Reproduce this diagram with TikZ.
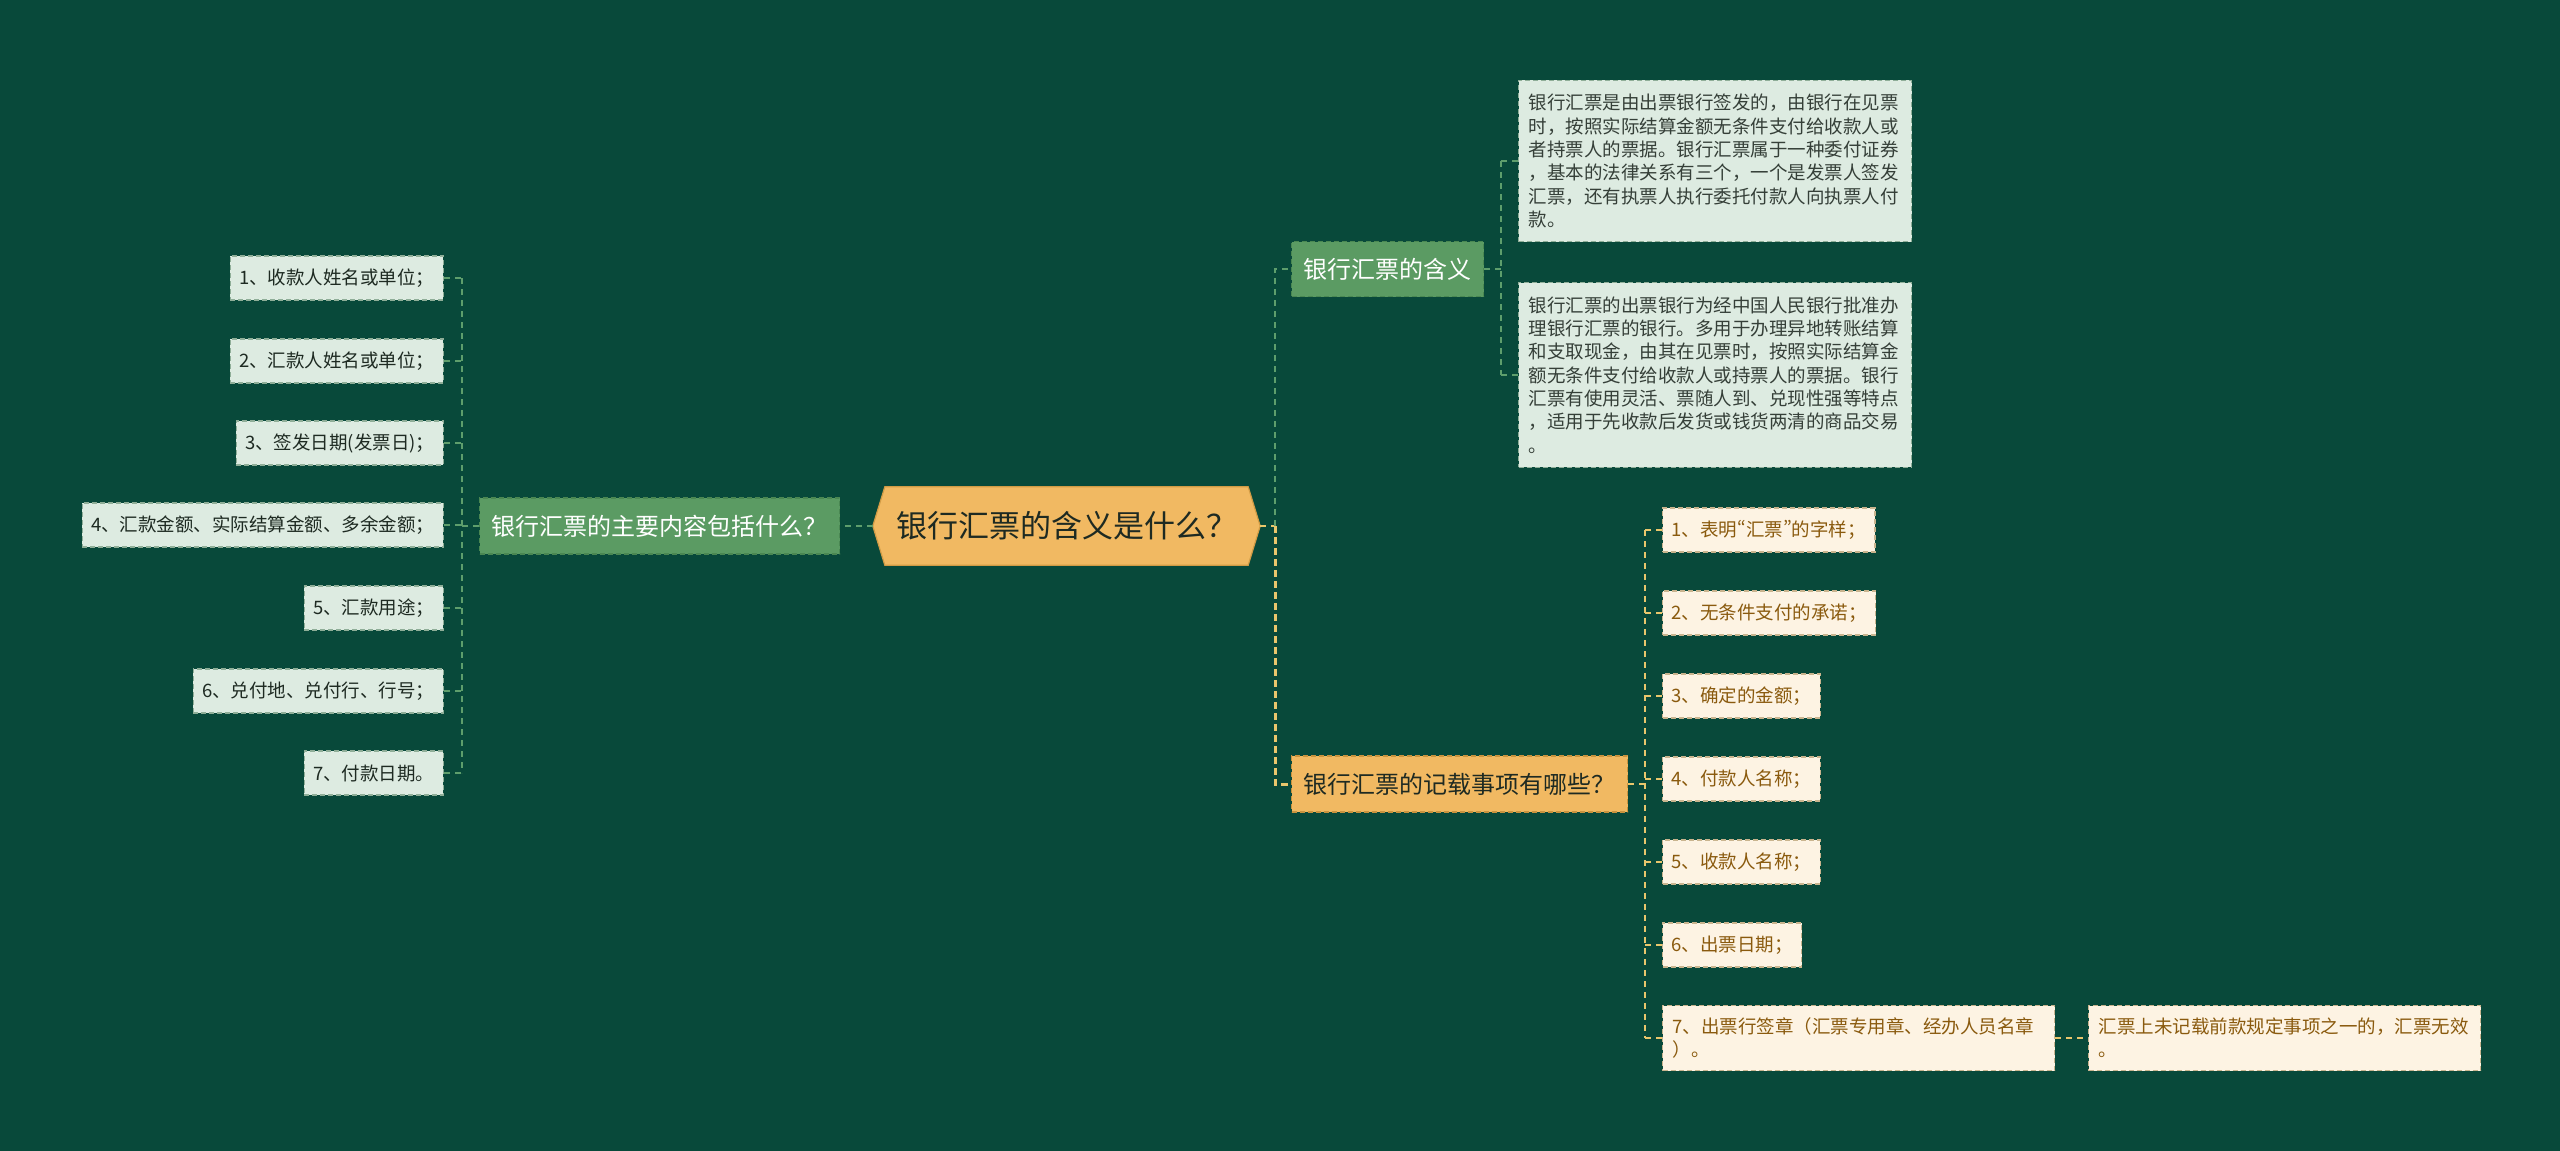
\documentclass[tikz,border=0pt]{standalone}
\usepackage{fontspec}
\newfontfamily\cjk{Noto Sans CJK SC}
\usetikzlibrary{backgrounds}
\definecolor{bg}{HTML}{08493A}
\definecolor{mint}{HTML}{DDEBE1}
\definecolor{mintb}{HTML}{8FAE98}
\definecolor{gnode}{HTML}{5B9B63}
\definecolor{gnodeb}{HTML}{4A8752}
\definecolor{onode}{HTML}{F1B962}
\definecolor{onodeb}{HTML}{C9933E}
\definecolor{cream}{HTML}{FDF3E3}
\definecolor{creamb}{HTML}{C9B48E}
\definecolor{brown}{HTML}{8A5A0E}
\definecolor{gline}{HTML}{5E9E6C}
\definecolor{yline}{HTML}{E9C66C}
\definecolor{darktext}{HTML}{1E2A22}
\newcommand{\pq}[1]{{\addfontfeatures{RawFeature=+pwid}#1}}
\begin{document}
\begin{tikzpicture}[x=1pt,y=-1pt,
  small/.style={font=\cjk\fontsize{18.5}{23}\selectfont},
  lbox/.style={small, draw=mintb, dash pattern=on 5pt off 3pt, line width=1.2pt, fill=mint, text=darktext, inner xsep=9pt, inner ysep=0pt, minimum height=44pt, anchor=east},
  rbox/.style={small, draw=creamb, dash pattern=on 5pt off 3pt, line width=1.2pt, fill=cream, text=brown, inner xsep=9pt, inner ysep=0pt, minimum height=44pt, anchor=west},
  rbox2/.style={rbox, align=left, text width=372pt, inner xsep=10pt, inner ysep=12pt, minimum height=65pt},
  dbox/.style={font=\cjk\fontsize{18.5}{23.3}\selectfont, draw=mintb, dash pattern=on 5pt off 3pt, line width=1.2pt, fill=mint, text=darktext!90, align=left, text width=373pt, inner xsep=10pt, inner ysep=14pt, anchor=west},
  gbox/.style={font=\cjk\fontsize{24}{28}\selectfont, draw=gnodeb, dash pattern=on 5pt off 3pt, line width=1.2pt, fill=gnode, text=white, inner xsep=12pt, inner ysep=0pt, minimum height=55pt, anchor=west},
  obox/.style={gbox, draw=onodeb, fill=onode, text=darktext},
  gconn/.style={draw=gline, line width=1.4pt, dash pattern=on 6pt off 5pt},
  yconn/.style={draw=yline, line width=1.4pt, dash pattern=on 6pt off 5pt},
  ytrunk/.style={draw=yline, line width=3pt, dash pattern=on 7pt off 4pt}
]
\useasboundingbox (0,0) rectangle (2560,1151);

% root
\node[font=\cjk\fontsize{31}{36}\selectfont, text=darktext, minimum width=387pt, minimum height=78pt, inner sep=0pt] (root) at (1066.5,526) {银行汇票的含义是什么？};
\begin{scope}[on background layer]
\fill[bg] (0,0) rectangle (2560,1151);
\draw[fill=onode, draw=onodeb!80!onode, line width=1.2pt] (root.west) -- ([xshift=12pt]root.north west) -- ([xshift=-12pt]root.north east) -- (root.east) -- ([xshift=-12pt]root.south east) -- ([xshift=12pt]root.south west) -- cycle;
\end{scope}

% left branch
\node[gbox, minimum height=56pt] (lg) at (479,526) {银行汇票的主要内容包括什么？};
\node[lbox] (L1) at (444,278) {1、收款人姓名或单位；};
\node[lbox] (L2) at (444,361) {2、汇款人姓名或单位；};
\node[lbox] (L3) at (444,443) {3、签发日期(发票日)；};
\node[lbox] (L4) at (444,525) {4、汇款金额、实际结算金额、多余金额；};
\node[lbox] (L5) at (444,608) {5、汇款用途；};
\node[lbox] (L6) at (444,691) {6、兑付地、兑付行、行号；};
\node[lbox] (L7) at (444,773) {7、付款日期。};
\coordinate (lbus) at (462,0);
\draw[gconn] (root.west) -- (lg.east);
\draw[gconn] (lg.west) -- (lg.west -| lbus);
\draw[gconn] (L1.east -| lbus) -- (L7.east -| lbus);
\foreach \n in {L1,L2,L3,L4,L5,L6,L7} \draw[gconn] (\n.east) -- (\n.east -| lbus);

% right upper branch
\node[gbox] (rg) at (1291,269) {银行汇票的含义};
\node[dbox] (dA) at (1518,161) {银行汇票是由出票银行签发的，由银行在见票\\时，按照实际结算金额无条件支付给收款人或\\者持票人的票据。银行汇票属于一种委付证券\\，基本的法律关系有三个，一个是发票人签发\\汇票，还有执票人执行委托付款人向执票人付\\款。};
\node[dbox] (dB) at (1518,375) {银行汇票的出票银行为经中国人民银行批准办\\理银行汇票的银行。多用于办理异地转账结算\\和支取现金，由其在见票时，按照实际结算金\\额无条件支付给收款人或持票人的票据。银行\\汇票有使用灵活、票随人到、兑现性强等特点\\，适用于先收款后发货或钱货两清的商品交易\\。};
\coordinate (rbus) at (1275,0);
\coordinate (dbus) at (1501,0);
\draw[yconn, line width=2pt] (root.east) -- (root.east -| rbus);
\draw[gconn] (root.east -| rbus) |- (rg.west);
\draw[gconn] (rg.east) -- (rg.east -| dbus);
\draw[gconn] (dA.west -| dbus) -- (dB.west -| dbus);
\draw[gconn] (dA.west -| dbus) -- (dA.west);
\draw[gconn] (dB.west -| dbus) -- (dB.west);

% right lower branch
\node[obox, minimum height=56pt] (ro) at (1291,784) {银行汇票的记载事项有哪些？};
\draw[ytrunk] (root.east -| rbus) |- (ro.west);
\node[rbox] (I1) at (1662,530) {1、表明\pq{“}汇票\pq{”}的字样；};
\node[rbox] (I2) at (1662,613) {2、无条件支付的承诺；};
\node[rbox] (I3) at (1662,696) {3、确定的金额；};
\node[rbox] (I4) at (1662,779) {4、付款人名称；};
\node[rbox] (I5) at (1662,862) {5、收款人名称；};
\node[rbox] (I6) at (1662,945) {6、出票日期；};
\node[rbox2] (I7) at (1662,1038) {7、出票行签章（汇票专用章、经办人员名章\\）。};
\node[rbox2] (N7) at (2088,1038) {汇票上未记载前款规定事项之一的，汇票无效\\。};
\coordinate (ibus) at (1645,0);
\draw[yconn] (ro.east) -- (ro.east -| ibus);
\draw[yconn] (I1.west -| ibus) -- (I7.west -| ibus);
\foreach \n in {I1,I2,I3,I4,I5,I6,I7} \draw[yconn] (\n.west -| ibus) -- (\n.west);
\draw[yconn] (I7.east) -- (N7.west);
\end{tikzpicture}
\end{document}
